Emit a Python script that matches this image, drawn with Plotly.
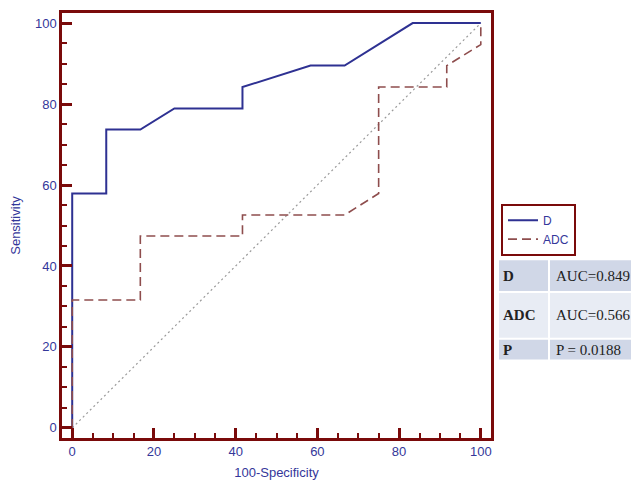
import plotly.graph_objects as go

# ROC data (100-Specificity, Sensitivity)
d_x = [0, 0, 8.33, 8.33, 16.67, 25, 41.67, 41.67, 58.33, 66.67, 83.33, 100]
d_y = [0, 57.9, 57.9, 73.7, 73.7, 78.9, 78.9, 84.2, 89.5, 89.5, 100, 100]

adc_x = [0, 0, 16.67, 16.67, 41.67, 41.67, 66.67, 75, 75, 91.67, 91.67, 100, 100]
adc_y = [0, 31.6, 31.6, 47.4, 47.4, 52.6, 52.6, 57.9, 84.2, 84.2, 89.5, 94.7, 100]

ref_x = [0, 100]
ref_y = [0, 100]

table_labels = ["D", "ADC", "P"]
table_values = ["AUC=0.849", "AUC=0.566", "P = 0.0188"]

DARKRED = "#7A0A0A"
BLUE = "#2E3192"
TICKBLUE = "#34379A"
BROWN = "#8E4D4D"

fig = go.Figure()
fig.add_trace(go.Scatter(x=ref_x, y=ref_y, mode="lines", showlegend=False,
                         line=dict(color="#9A9A9A", width=1.2, dash="2px,3px"), hoverinfo="skip"))
fig.add_trace(go.Scatter(x=d_x, y=d_y, mode="lines", name="D",
                         line=dict(color=BLUE, width=2)))
fig.add_trace(go.Scatter(x=adc_x, y=adc_y, mode="lines", name="ADC",
                         line=dict(color=BROWN, width=1.6, dash="9px,5px")))

# page body has an 8px margin, so the figure starts at (8, 8) in the window
OFF = 8
WIN_W, WIN_H = 639, 482
W, H = WIN_W - OFF, WIN_H - OFF
plot_left, plot_right, plot_top, plot_bottom = 62, 491, 10, 438
L = plot_left - OFF
T = plot_top - OFF
R = WIN_W - plot_right
B = WIN_H - plot_bottom
pw, ph = plot_right - plot_left, plot_bottom - plot_top

def px2x(px):
    return (px - plot_left) / pw

def px2y(py):
    return (plot_bottom - py) / ph

axis_common = dict(
    range=[-2.5, 102.5], dtick=20, showgrid=False, zeroline=False,
    showline=True, linecolor=DARKRED, linewidth=2.5, mirror=True,
    ticks="inside", ticklen=10, tickwidth=2.5, tickcolor=DARKRED,
    minor=dict(ticks="inside", ticklen=5, dtick=5, tickwidth=2, tickcolor=DARKRED),
    tickfont=dict(family="Liberation Sans, Arial", size=13, color=TICKBLUE),
)

fig.update_layout(
    width=W, height=H,
    margin=dict(l=L, r=R, t=T, b=B),
    paper_bgcolor="white", plot_bgcolor="white",
    xaxis=dict(**axis_common,
               title=dict(text="100-Specificity", standoff=10,
                          font=dict(family="Liberation Sans, Arial", size=13, color=TICKBLUE))),
    yaxis=dict(**axis_common,
               title=dict(text="Sensitivity", standoff=14,
                          font=dict(family="Liberation Sans, Arial", size=13, color=TICKBLUE))),
    legend=dict(x=px2x(501), y=px2y(202), xanchor="left", yanchor="top",
                bordercolor=DARKRED, borderwidth=2, bgcolor="white",
                font=dict(family="Liberation Sans, Arial", size=12, color=TICKBLUE),
                tracegroupgap=0, itemwidth=30, entrywidth=54,
                ),
    showlegend=True,
)

# Table drawn with shapes + annotations
rows = [(259, 290), (292, 337), (339, 359)]
fills = ["#D0D7E7", "#E8ECF4", "#D0D7E7"]
col1 = (499, 548)
col2 = (550, 660)
shapes = []
annotations = []
for i, (y0, y1) in enumerate(rows):
    for (c0, c1) in (col1, col2):
        shapes.append(dict(type="rect", xref="paper", yref="paper",
                           x0=px2x(c0), x1=px2x(c1), y0=px2y(y1), y1=px2y(y0),
                           fillcolor=fills[i], line=dict(width=0), layer="below"))
    ym = px2y((y0 + y1) / 2)
    annotations.append(dict(xref="paper", yref="paper", x=px2x(501), y=ym,
                            xanchor="left", yanchor="middle", showarrow=False,
                            text="<b>" + table_labels[i] + "</b>",
                            font=dict(family="Liberation Serif, Times New Roman", size=15, color="#222")))
    annotations.append(dict(xref="paper", yref="paper", x=px2x(554), y=ym,
                            xanchor="left", yanchor="middle", showarrow=False,
                            text=table_values[i],
                            font=dict(family="Liberation Serif, Times New Roman", size=15, color="#222")))

fig.update_layout(shapes=shapes, annotations=annotations)

fig.write_html("out.html")
